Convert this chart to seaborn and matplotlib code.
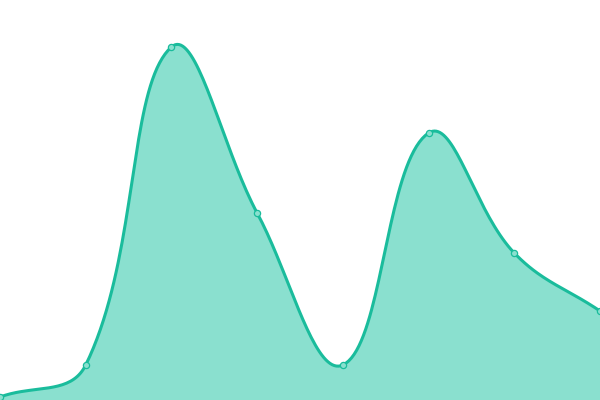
import matplotlib
matplotlib.use("Agg")
import matplotlib.pyplot as plt
import numpy as np
import seaborn as sns

sns.set_theme(style="white")

# values (0 = bottom edge, 400 = top edge)
positions = [0, 1, 2, 3, 4, 5, 6, 7]
values = [3, 35, 353, 187, 35, 267, 147, 89]

LINE = "#1abc9c"
FILL = "#8ae0cf"


def bezier_curve(xs, ys, tension=0.4, steps=40):
    # Chart.js-like spline through the points
    pts = np.column_stack([xs, ys]).astype(float)
    n = len(pts)
    cps = []
    for i in range(n):
        prev = pts[max(i - 1, 0)]
        cur = pts[i]
        nxt = pts[min(i + 1, n - 1)]
        d01 = np.hypot(*(cur - prev))
        d12 = np.hypot(*(nxt - cur))
        tot = d01 + d12
        s01 = d01 / tot if tot else 0
        s12 = d12 / tot if tot else 0
        cps.append((cur - tension * s01 * (nxt - prev), cur + tension * s12 * (nxt - prev)))
    t = np.linspace(0, 1, steps)[:, None]
    out = []
    for i in range(n - 1):
        p0, p3 = pts[i], pts[i + 1]
        p1, p2 = cps[i][1], cps[i + 1][0]
        seg = (1 - t) ** 3 * p0 + 3 * (1 - t) ** 2 * t * p1 + 3 * (1 - t) * t ** 2 * p2 + t ** 3 * p3
        out.append(seg if i == 0 else seg[1:])
    seg = np.vstack(out)
    return seg[:, 0], seg[:, 1]


x_px = np.array(positions) * 600 / 7
cx, cy = bezier_curve(x_px, values)

fig = plt.figure(figsize=(6, 4), dpi=100)
ax = fig.add_axes([0, 0, 1, 1])
ax.fill_between(cx, cy, 0, color=FILL, linewidth=0)
ax.plot(cx, cy, color=LINE, linewidth=2.2, solid_capstyle="round")
sns.scatterplot(x=x_px, y=values, ax=ax, s=20, color=FILL, edgecolor=LINE,
                linewidth=0.9, zorder=3, legend=False)
ax.set_xlim(0, 600)
ax.set_ylim(0, 400)
ax.axis("off")

fig.savefig("out.png", dpi=100)
